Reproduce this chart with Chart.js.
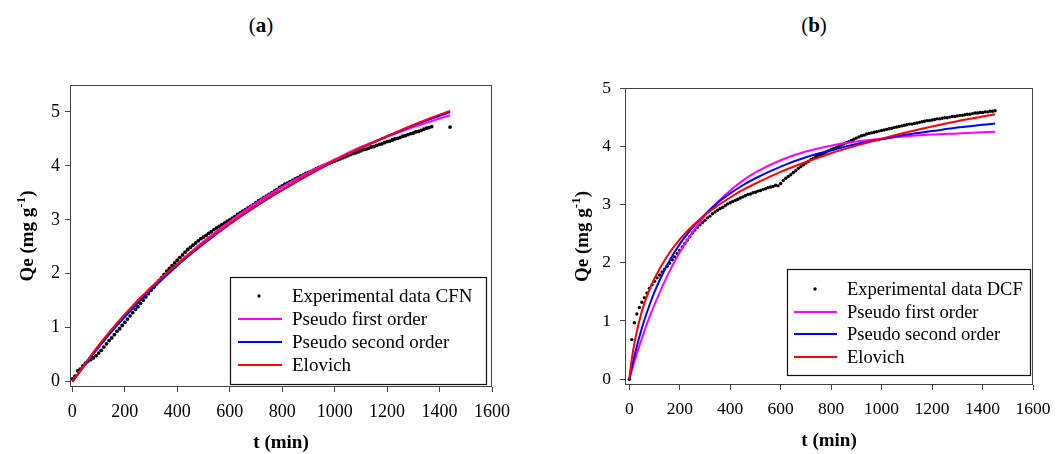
<!DOCTYPE html>
<html>
<head>
<meta charset="utf-8">
<script src="https://cdn.jsdelivr.net/npm/chart.js@4.4.1/dist/chart.umd.min.js"></script>
<style>
  html, body { margin: 0; padding: 0; background: #fff; width: 1061px; height: 454px; overflow: hidden; }
  canvas { position: absolute; top: 0; }
  #chartA { left: 0; }
  #chartB { left: 530px; }
  .lbl { position: absolute; top: 15px; font-family: 'Liberation Serif', serif; font-size: 21px; line-height: 21px;
         color: #000; transform: translateX(-50%); white-space: nowrap; }
</style>
</head>
<body>
<div class="lbl" style="left:261px">(<b>a</b>)</div>
<div class="lbl" style="left:814px">(<b>b</b>)</div>
<canvas id="chartA" width="530" height="454"></canvas>
<canvas id="chartB" width="531" height="454"></canvas>
<script>
const SERIF = "'Liberation Serif', 'Times New Roman', serif";

// tick labels
const xTicks = [0, 200, 400, 600, 800, 1000, 1200, 1400, 1600];
const yTicksA = [0, 1, 2, 3, 4, 5];
const yTicksB = [0, 1, 2, 3, 4, 5];

// (a) CFN experimental data
const tExpA = [0,10,20,30,40,50,60,70,80,90,100,110,120,130,140,150,160,170,180,190,
  200,210,220,230,240,250,260,270,280,290,300,310,320,330,340,350,360,370,380,390,
  400,410,420,430,440,450,460,470,480,490,500,510,520,530,540,550,560,570,580,590,
  600,610,620,630,640,650,660,670,680,690,700,710,720,730,740,750,760,770,780,790,
  800,810,820,830,840,850,860,870,880,890,900,910,920,930,940,950,960,970,980,990,
  1000,1010,1020,1030,1040,1050,1060,1070,1080,1090,1100,1110,1120,1130,1140,1150,1160,1170,1180,1190,
  1200,1210,1220,1230,1240,1250,1260,1270,1280,1290,1300,1310,1320,1330,1340,1350,1360,1370,1440];
const qExpA = [0.05,0.10,0.20,0.23,0.29,0.34,0.38,0.41,0.44,0.48,0.53,0.58,0.64,0.70,0.76,0.81,0.87,0.93,0.98,1.04,
  1.10,1.16,1.22,1.28,1.34,1.39,1.45,1.51,1.57,1.63,1.69,1.75,1.81,1.87,1.93,1.99,2.05,2.10,2.15,2.20,
  2.25,2.30,2.35,2.40,2.45,2.49,2.53,2.57,2.61,2.65,2.68,2.71,2.75,2.78,2.82,2.85,2.88,2.91,2.94,2.97,
  3.00,3.03,3.06,3.10,3.13,3.16,3.19,3.22,3.25,3.28,3.32,3.35,3.38,3.41,3.44,3.47,3.50,3.53,3.56,3.60,
  3.63,3.66,3.68,3.71,3.73,3.76,3.78,3.81,3.83,3.86,3.88,3.90,3.92,3.95,3.97,3.99,4.01,4.03,4.05,4.07,
  4.09,4.11,4.13,4.15,4.17,4.19,4.21,4.23,4.24,4.26,4.28,4.30,4.31,4.33,4.35,4.36,4.38,4.40,4.41,4.43,
  4.45,4.46,4.48,4.50,4.51,4.53,4.55,4.56,4.58,4.60,4.61,4.63,4.64,4.66,4.68,4.70,4.71,4.73,4.72];

// (a) model curves
const tFitA = [0,100,200,300,400,500,600,700,800,900,1000,1100,1200,1300,1400,1440];
const pfoA = [0,0.64,1.21,1.72,2.18,2.60,2.97,3.31,3.61,3.88,4.12,4.35,4.54,4.72,4.88,4.94];
const psoA = [0,0.64,1.20,1.70,2.15,2.55,2.92,3.25,3.55,3.83,4.09,4.33,4.55,4.75,4.93,5.00];
const eloA = [0,0.67,1.25,1.75,2.18,2.57,2.93,3.26,3.56,3.84,4.10,4.33,4.55,4.76,4.95,5.02];

// (b) DCF experimental data
const tExpB = [0,10,20,30,40,50,60,70,80,90,100,110,120,130,140,150,160,170,180,190,
  200,210,220,230,240,250,260,270,280,290,300,310,320,330,340,350,360,370,380,390,
  400,410,420,430,440,450,460,470,480,490,500,510,520,530,540,550,560,570,580,590,
  600,610,620,630,640,650,660,670,680,690,700,710,720,730,740,750,760,770,780,790,
  800,810,820,830,840,850,860,870,880,890,900,910,920,930,940,950,960,970,980,990,
  1000,1010,1020,1030,1040,1050,1060,1070,1080,1090,1100,1110,1120,1130,1140,1150,1160,1170,1180,1190,
  1200,1210,1220,1230,1240,1250,1260,1270,1280,1290,1300,1310,1320,1330,1340,1350,1360,1370,1380,1390,
  1400,1410,1420,1430,1440,1450];
const qExpB = [0,0.68,0.97,1.12,1.23,1.32,1.40,1.48,1.56,1.62,1.68,1.74,1.79,1.84,1.89,1.94,1.99,2.05,2.10,2.16,
  2.21,2.27,2.33,2.39,2.45,2.51,2.56,2.61,2.65,2.69,2.73,2.77,2.80,2.84,2.87,2.90,2.93,2.95,2.98,3.01,
  3.03,3.05,3.07,3.09,3.11,3.13,3.15,3.17,3.18,3.20,3.21,3.23,3.24,3.26,3.27,3.29,3.30,3.31,3.33,3.32,
  3.36,3.41,3.45,3.48,3.51,3.55,3.58,3.62,3.65,3.68,3.71,3.74,3.77,3.79,3.82,3.84,3.86,3.88,3.90,3.92,
  3.94,3.96,3.98,4.00,4.02,4.04,4.06,4.08,4.10,4.12,4.14,4.16,4.18,4.19,4.21,4.22,4.23,4.24,4.25,4.26,
  4.27,4.28,4.29,4.30,4.31,4.32,4.33,4.34,4.35,4.36,4.37,4.38,4.38,4.39,4.40,4.41,4.42,4.43,4.44,4.44,
  4.45,4.46,4.47,4.47,4.48,4.49,4.49,4.50,4.51,4.51,4.52,4.53,4.53,4.54,4.55,4.55,4.56,4.57,4.57,4.58,
  4.58,4.59,4.59,4.60,4.60,4.61];

// (b) model curves
const tFitB = [0,10,25,50,75,100,150,200,250,300,350,400,450,500,600,700,800,900,1000,1100,1200,1300,1400,1450];
const pfoB = [0,0.15,0.37,0.70,1.01,1.28,1.77,2.18,2.52,2.81,3.04,3.24,3.41,3.55,3.76,3.91,4.01,4.08,4.13,4.17,4.20,4.22,4.24,4.25];
const psoB = [0,0.20,0.48,0.88,1.21,1.50,1.96,2.32,2.60,2.83,3.03,3.19,3.33,3.45,3.65,3.81,3.93,4.04,4.12,4.20,4.26,4.32,4.37,4.39];
const eloB = [0,0.35,0.72,1.17,1.48,1.73,2.11,2.40,2.63,2.82,2.98,3.12,3.25,3.36,3.56,3.73,3.88,4.01,4.13,4.24,4.34,4.43,4.51,4.55];

// frame, legend box and y title drawn on top of the chart area
const panelDeco = {
  id: 'panelDeco',
  afterDraw(chart, args, o) {
    const ctx = chart.ctx, a = chart.chartArea;
    ctx.save();
    ctx.strokeStyle = '#444';
    ctx.lineWidth = 1;
    ctx.strokeRect(Math.round(a.left) + 0.5, Math.round(a.top) + 0.5,
      Math.round(a.right - a.left) - 1, Math.round(a.bottom - a.top) - 1);

    // legend
    const b = o.box;
    ctx.fillStyle = '#fff';
    ctx.fillRect(b[0], b[1], b[2] - b[0], b[3] - b[1]);
    ctx.strokeStyle = '#111';
    ctx.lineWidth = 1.2;
    ctx.strokeRect(b[0] + 0.5, b[1] + 0.5, b[2] - b[0], b[3] - b[1]);
    ctx.font = o.legendSize + 'px ' + SERIF;
    ctx.textBaseline = 'middle';
    ctx.textAlign = 'left';
    chart.data.datasets.forEach((ds, i) => {
      const y = o.rows[i];
      if (ds.showLine) {
        ctx.strokeStyle = ds.borderColor;
        ctx.lineWidth = 2;
        ctx.beginPath();
        ctx.moveTo(o.line[0], y);
        ctx.lineTo(o.line[1], y);
        ctx.stroke();
      } else {
        ctx.fillStyle = '#000';
        ctx.beginPath();
        ctx.arc(o.dotX, y, 1.7, 0, Math.PI * 2);
        ctx.fill();
      }
      ctx.fillStyle = '#000';
      ctx.fillText(ds.label, o.textX, y + 1);
    });

    // y axis title with superscript
    ctx.translate(o.yTitleX, (a.top + a.bottom) / 2);
    ctx.rotate(-Math.PI / 2);
    ctx.textBaseline = 'alphabetic';
    const big = 'bold 19px ' + SERIF, small = 'bold 13px ' + SERIF;
    const parts = [['Qe (mg g', big, 0], ['-1', small, -8], [')', big, 0]];
    let w = 0;
    parts.forEach(p => { ctx.font = p[1]; w += ctx.measureText(p[0]).width; });
    let x = -w / 2;
    parts.forEach(p => {
      ctx.font = p[1];
      ctx.fillText(p[0], x, p[2]);
      x += ctx.measureText(p[0]).width;
    });
    ctx.restore();
  }
};

function makePanel(id, p) {
  const pts = (xs, ys) => xs.map((x, i) => ({ x: x, y: ys[i] }));
  const fit = (label, ys, color, order) => ({
    label: label, data: pts(p.tFit, ys), showLine: true,
    borderColor: color, backgroundColor: color, borderWidth: 2,
    pointRadius: 0, cubicInterpolationMode: 'monotone', order: order
  });

  return new Chart(document.getElementById(id), {
    type: 'scatter',
    data: {
      datasets: [
        { label: p.expLabel, data: pts(p.tExp, p.qExp), showLine: false,
          pointRadius: p.dotR, pointBorderWidth: 0, backgroundColor: '#000', borderColor: '#000', order: 3 },
        fit('Pseudo first order', p.pfo, '#ff00ff', 2),
        fit('Pseudo second order', p.pso, '#0000ff', 1),
        fit('Elovich', p.elo, '#ff0000', 0)
      ]
    },
    options: {
      responsive: false,
      animation: false,
      events: [],
      layout: { padding: { left: 0, top: p.padTop, right: p.padRight, bottom: 0 } },
      plugins: {
        legend: { display: false },
        tooltip: { enabled: false },
        panelDeco: p.deco
      },
      scales: {
        x: {
          type: 'linear', min: p.xMin, max: 1600,
          afterBuildTicks: s => { s.ticks = xTicks.map(v => ({ value: v })); },
          afterFit: s => { s.height = p.xAxisH; },
          border: { display: false },
          grid: { drawOnChartArea: false, drawTicks: true, tickLength: 5, color: '#444' },
          ticks: { color: '#000', font: { family: SERIF, size: p.tickSize }, padding: 9,
                   maxRotation: 0, autoSkip: false, callback: v => String(v) },
          title: { display: true, text: 't (min)', color: '#000',
                   font: { family: SERIF, size: 19, weight: 'bold' }, padding: { top: 0, bottom: p.xTitlePad } }
        },
        y: {
          type: 'linear', min: -0.1, max: p.yMax,
          afterBuildTicks: s => { s.ticks = p.yTicks.map(v => ({ value: v })); },
          afterFit: s => { s.width = p.yAxisW; },
          border: { display: false },
          grid: { drawOnChartArea: false, drawTicks: true, tickLength: 5, color: '#444' },
          ticks: { color: '#000', font: { family: SERIF, size: p.tickSize }, padding: p.yTickPad,
                   callback: v => String(v) }
        }
      }
    },
    plugins: [panelDeco]
  });
}

makePanel('chartA', {
  expLabel: 'Experimental data CFN',
  tExp: tExpA, qExp: qExpA, tFit: tFitA, pfo: pfoA, pso: psoA, elo: eloA,
  yTicks: yTicksA, yMax: 5.5, xMin: -9, dotR: 1.9,
  padTop: 85, padRight: 38, xAxisH: 67, yAxisW: 70,
  tickSize: 18, yTickPad: 5, xTitlePad: 0,
  deco: { box: [230, 277, 486, 384], rows: [296, 319, 342, 365], line: [238, 282],
          dotX: 259, textX: 292, legendSize: 19, yTitleX: 33 }
});

makePanel('chartB', {
  expLabel: 'Experimental data DCF',
  tExp: tExpB, qExp: qExpB, tFit: tFitB, pfo: pfoB, pso: psoB, elo: eloB,
  yTicks: yTicksB, yMax: 5, xMin: -17, dotR: 1.7,
  padTop: 88, padRight: 28, xAxisH: 69, yAxisW: 95,
  tickSize: 17.5, yTickPad: 9, xTitlePad: 2,
  deco: { box: [257, 269, 500, 375], rows: [289, 312, 334, 357], line: [264, 307],
          dotX: 285, textX: 317, legendSize: 18.5, yTitleX: 58 }
});
</script>
</body>
</html>
